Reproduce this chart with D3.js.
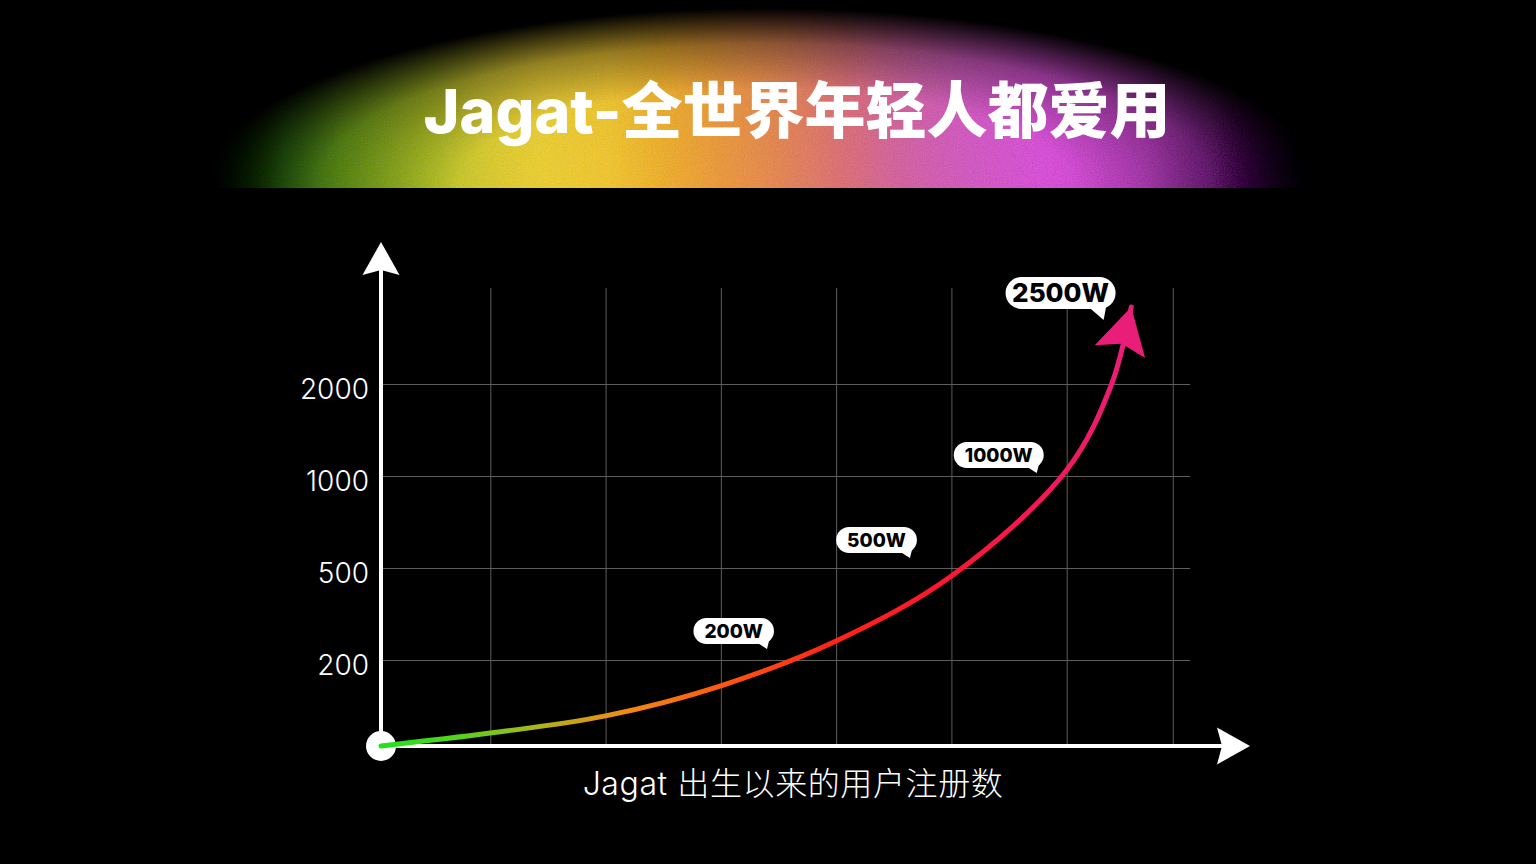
<!DOCTYPE html>
<html>
<head>
<meta charset="utf-8">
<script src="https://cdn.jsdelivr.net/npm/d3@7"></script>
<style>
  html, body { margin: 0; padding: 0; background: #000; }
  svg { display: block; }
</style>
</head>
<body>
<div id="chart"></div>
<script>
// ---- data ----
const titleText = 'Jagat-全世界年轻人都爱用';
const xAxisTitle = 'Jagat 出生以来的用户注册数';
const yTickValues = [200, 500, 1000, 2000];
const yTickLabels = ['200', '500', '1000', '2000'];
const xGridValues = [1, 2, 3, 4, 5, 6, 6.92];
const growthX = [0, 1, 2, 3, 4, 5, 6, 6.39, 6.56];
const growthY = [0, 30, 70, 140, 262, 474, 1065, 2000, 2837];
const calloutText = ['200W', '500W', '1000W', '2500W'];
const calloutX = [3.40, 4.64, 5.74, 6.32];
const calloutY = [236, 554, 1033, 2696];

const W = 1536, H = 864;
const latin = "Inter, 'Noto Sans CJK SC', sans-serif";

// piecewise scales: the y axis is stepped (200 / 500 / 1000 / 2000 evenly spaced)
const xScale = d3.scaleLinear().domain([0, 1, 6]).range([381, 490.3, 1066.7]);
const yScale = d3.scaleLinear().domain([0, 200, 500, 1000, 2000, 3000]).range([746, 660, 568, 476, 384, 292]);

const x0 = xScale(0), y0 = yScale(0);
const gridRight = 1190, gridTop = 288;

const svg = d3.select('#chart').append('svg')
  .attr('width', W).attr('height', H)
  .attr('viewBox', `0 0 ${W} ${H}`);

svg.append('rect').attr('width', W).attr('height', H).attr('fill', '#000');

const defs = svg.append('defs');

// ---- rainbow glow behind the title ----
const glowCx = 765, glowRx = 560, glowRy = 180, glowBase = 188;
const glowStops = [
  [0.00, '#0a1c06'], [0.025, '#2c6019'], [0.07, '#55ad3a'], [0.12, '#86c43c'],
  [0.19, '#b6cc40'], [0.25, '#dfd248'], [0.30, '#f2d64a'], [0.36, '#f5cc48'],
  [0.41, '#f2b545'], [0.46, '#eea050'], [0.51, '#e89060'], [0.57, '#e07a80'],
  [0.62, '#d870a8'], [0.68, '#d868c8'], [0.75, '#e060e0'], [0.84, '#d055d5'],
  [0.90, '#a040b0'], [0.95, '#5a2070'], [1.00, '#100510']
];
const hg = defs.append('linearGradient').attr('id', 'glowH')
  .attr('gradientUnits', 'userSpaceOnUse')
  .attr('x1', glowCx - glowRx).attr('x2', glowCx + glowRx).attr('y1', 0).attr('y2', 0);
glowStops.forEach(s => hg.append('stop').attr('offset', s[0]).attr('stop-color', s[1]));

const rg = defs.append('radialGradient').attr('id', 'glowR')
  .attr('cx', 0.5).attr('cy', 0.5).attr('r', 0.5);
[[0, 1], [0.55, 0.97], [0.8, 0.62], [0.93, 0.22], [1, 0]].forEach(s =>
  rg.append('stop').attr('offset', s[0]).attr('stop-color', '#fff').attr('stop-opacity', s[1]));

const mask = defs.append('mask').attr('id', 'glowMask')
  .attr('maskUnits', 'userSpaceOnUse').attr('x', 0).attr('y', 0).attr('width', W).attr('height', H);
mask.append('rect')
  .attr('x', glowCx - glowRx).attr('y', glowBase - glowRy)
  .attr('width', glowRx * 2).attr('height', glowRy * 2)
  .attr('fill', 'url(#glowR)');

defs.append('clipPath').attr('id', 'glowClip')
  .append('rect').attr('x', 0).attr('y', 0).attr('width', W).attr('height', glowBase);

// grain
const grain = defs.append('filter').attr('id', 'grain').attr('x', 0).attr('y', 0).attr('width', 1).attr('height', 1);
grain.append('feTurbulence').attr('type', 'fractalNoise').attr('baseFrequency', 0.9).attr('numOctaves', 2).attr('seed', 3).attr('result', 'noise');
grain.append('feColorMatrix').attr('in', 'noise').attr('type', 'saturate').attr('values', 0).attr('result', 'mono');
grain.append('feComposite').attr('in', 'SourceGraphic').attr('in2', 'mono')
  .attr('operator', 'arithmetic').attr('k1', 0).attr('k2', 1).attr('k3', 0.12).attr('k4', -0.06).attr('result', 'mix');
grain.append('feComposite').attr('in', 'mix').attr('in2', 'SourceAlpha').attr('operator', 'in');

svg.append('g').attr('clip-path', 'url(#glowClip)')
  .append('rect')
  .attr('x', glowCx - glowRx).attr('y', glowBase - glowRy)
  .attr('width', glowRx * 2).attr('height', glowRy * 2)
  .attr('fill', 'url(#glowH)')
  .attr('mask', 'url(#glowMask)')
  .attr('filter', 'url(#grain)');

svg.append('text')
  .attr('x', 797).attr('y', 133)
  .attr('text-anchor', 'middle')
  .attr('fill', '#fff')
  .style('font-family', "Inter, 'Noto Sans CJK SC', sans-serif")
  .style('font-weight', 800)
  .style('font-size', '61px')
  .text(titleText);

// ---- grid ----
svg.append('g')
  .attr('transform', `translate(0,${y0})`)
  .call(d3.axisBottom(xScale).tickValues(xGridValues).tickFormat('').tickSize(-(y0 - gridTop)))
  .call(g => g.select('.domain').remove())
  .call(g => g.selectAll('line').attr('stroke', '#5e5e5e').attr('stroke-width', 1));

svg.append('g')
  .attr('transform', `translate(${x0},0)`)
  .call(d3.axisLeft(yScale).tickValues(yTickValues)
    .tickFormat((d, i) => yTickLabels[i])
    .tickSize(-(gridRight - x0)).tickPadding(12))
  .call(g => g.select('.domain').remove())
  .call(g => g.selectAll('line').attr('stroke', '#5e5e5e').attr('stroke-width', 1))
  .call(g => g.selectAll('text')
    .attr('fill', '#fff').attr('dy', '0.5em')
    .style('font-family', latin).style('font-weight', 300).style('font-size', '28px'));

// ---- axes with arrowheads ----
function arrowPath(tip, dir, len, half, notch) {
  const [dx, dy] = dir;
  const n = Math.hypot(dx, dy), ux = dx / n, uy = dy / n;
  const bx = tip[0] - ux * len, by = tip[1] - uy * len;
  const px = -uy, py = ux;
  return `M${tip[0]},${tip[1]}` +
    `L${bx + px * half},${by + py * half}` +
    `L${bx + ux * notch},${by + uy * notch}` +
    `L${bx - px * half},${by - py * half}Z`;
}

const yTip = [x0, 242], xTip = [1250, y0];
svg.append('line').attr('x1', x0).attr('y1', y0).attr('x2', x0).attr('y2', yTip[1] + 28)
  .attr('stroke', '#fff').attr('stroke-width', 4);
svg.append('line').attr('x1', x0).attr('y1', y0).attr('x2', xTip[0] - 28).attr('y2', y0)
  .attr('stroke', '#fff').attr('stroke-width', 4);
svg.append('path').attr('d', arrowPath(yTip, [0, -1], 33, 18.5, 5)).attr('fill', '#fff');
svg.append('path').attr('d', arrowPath(xTip, [1, 0], 33, 18.5, 5)).attr('fill', '#fff');

svg.append('circle').attr('cx', x0).attr('cy', y0).attr('r', 15).attr('fill', '#fff');

// ---- growth curve ----
const last = growthX.length - 1;
const lg = defs.append('linearGradient').attr('id', 'curveGrad')
  .attr('gradientUnits', 'userSpaceOnUse')
  .attr('x1', x0).attr('x2', xScale(growthX[last])).attr('y1', 0).attr('y2', 0);
[[0, '#1fe31f'], [0.1, '#52d41c'], [0.2, '#a6b61c'], [0.32, '#f08c16'],
 [0.45, '#ff5a10'], [0.6, '#ff2418'], [0.75, '#ff1530'], [0.9, '#f2185c'], [1, '#e91e78']]
  .forEach(s => lg.append('stop').attr('offset', s[0]).attr('stop-color', s[1]));

const idx = d3.range(growthX.length);
const line = d3.line()
  .x(i => xScale(growthX[i]))
  .y(i => yScale(growthY[i]))
  .curve(d3.curveCatmullRom.alpha(0.5));

svg.append('path')
  .attr('d', line(idx))
  .attr('fill', 'none')
  .attr('stroke', 'url(#curveGrad)')
  .attr('stroke-width', 5)
  .attr('stroke-linecap', 'round');

const tipPt = [xScale(growthX[last]), yScale(growthY[last])];
const prevPt = [xScale(growthX[last - 1]), yScale(growthY[last - 1])];
const dir = [tipPt[0] - prevPt[0], tipPt[1] - prevPt[1]];
svg.append('path').attr('d', arrowPath(tipPt, dir, 46, 26, 8)).attr('fill', '#e91e78');

// ---- callouts ----
calloutText.forEach((t, i) => {
  const big = i === calloutText.length - 1;
  const fs = big ? 26 : 19;
  const tx = xScale(calloutX[i]), ty = yScale(calloutY[i]);
  const g = svg.append('g');
  const rectH = big ? 32 : 26;
  const right = tx + (big ? 12 : 7);
  const bottom = ty - (big ? 11 : 5);
  const tail = g.append('path');
  const rect = g.append('rect');
  const label = g.append('text')
    .attr('fill', '#000')
    .attr('text-anchor', 'middle')
    .style('font-family', latin)
    .style('font-weight', 800)
    .style('font-size', fs + 'px')
    .text(t);
  const tw = label.node().getComputedTextLength();
  const rectW = tw + (big ? 13 : 22);
  rect.attr('x', right - rectW).attr('y', bottom - rectH)
    .attr('width', rectW).attr('height', rectH)
    .attr('rx', rectH / 2).attr('fill', '#fff');
  label.attr('x', right - rectW / 2).attr('y', bottom - rectH / 2).attr('dy', '0.36em');
  const tl = big ? 15 : 11;
  tail.attr('d', `M${tx - tl},${bottom - 2}L${tx},${ty}L${tx + (big ? 4 : 3)},${bottom - (big ? 10 : 7)}Z`)
    .attr('fill', '#fff');
});

// ---- x axis title ----
svg.append('text')
  .attr('x', 793).attr('y', 795)
  .attr('text-anchor', 'middle')
  .attr('fill', '#fff')
  .style('font-family', latin)
  .style('font-weight', 300)
  .style('font-size', '32px')
  .style('letter-spacing', '0.6px')
  .text(xAxisTitle);
</script>
</body>
</html>
